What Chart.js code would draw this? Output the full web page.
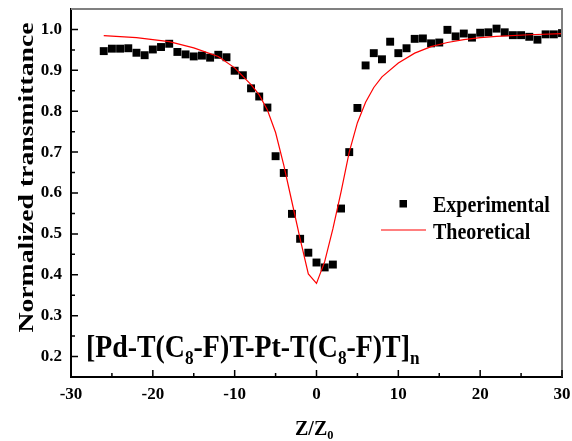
<!DOCTYPE html>
<html>
<head>
<meta charset="utf-8">
<script src="https://cdn.jsdelivr.net/npm/chart.js@4.4.1/dist/chart.umd.min.js"></script>
<style>
  html, body { margin: 0; padding: 0; background: #fff; }
  canvas { display: block; }
</style>
</head>
<body>
<canvas id="zscan" width="572" height="441"></canvas>
<script>
// experimental open-aperture points
const expZ = [-26, -25, -24, -23, -22, -21, -20, -19, -18, -17, -16, -15, -14, -13, -12, -11, -10, -9, -8, -7,
  -6, -5, -4, -3, -2, -1, 0, 1, 2, 3, 4, 5, 6, 7, 8, 9, 10, 11, 12, 13, 14, 15, 16, 17, 18, 19, 20, 21, 22, 23,
  24, 25, 26, 27, 28, 29, 30];
const expT = [0.947, 0.953, 0.953, 0.954, 0.943, 0.937, 0.951, 0.957, 0.965, 0.945, 0.939, 0.934, 0.936, 0.931,
  0.938, 0.932, 0.899, 0.888, 0.856, 0.836, 0.809, 0.690, 0.649, 0.549, 0.488, 0.454, 0.430, 0.418, 0.425, 0.562,
  0.700, 0.808, 0.912, 0.942, 0.927, 0.970, 0.942, 0.954, 0.977, 0.978, 0.966, 0.968, 0.999, 0.983, 0.990, 0.980,
  0.992, 0.993, 1.002, 0.993, 0.986, 0.986, 0.982, 0.975, 0.988, 0.988, 0.991];

// theoretical fit
const fitZ = [-26, -22, -18, -15, -12, -10, -8, -7, -6, -5, -4, -3, -2, -1, 0, 1, 2, 3, 4, 5, 6, 7, 8, 10, 12,
  14, 16, 18, 20, 22, 26, 30];
const fitT = [0.985, 0.980, 0.970, 0.955, 0.934, 0.906, 0.865, 0.840, 0.803, 0.748, 0.668, 0.578, 0.488, 0.402,
  0.379, 0.432, 0.512, 0.603, 0.700, 0.772, 0.822, 0.858, 0.884, 0.918, 0.942, 0.958, 0.968, 0.975, 0.980, 0.983,
  0.987, 0.990];

const xTicks = [-30, -20, -10, 0, 10, 20, 30];
const xMinor = [-25, -15, -5, 5, 15, 25];
const yTicks = [0.2, 0.3, 0.4, 0.5, 0.6, 0.7, 0.8, 0.9, 1.0];
const yMinor = [0.25, 0.35, 0.45, 0.55, 0.65, 0.75, 0.85, 0.95];

const serif = "'Liberation Serif', 'Times New Roman', serif";

// text with subscripts, squeezed a bit sideways like the original figure
function richText(ctx, parts, x, y, size, sx) {
  ctx.save();
  ctx.translate(x, y);
  ctx.scale(sx, 1);
  ctx.textAlign = 'left';
  ctx.textBaseline = 'alphabetic';
  let cx = 0;
  parts.forEach(p => {
    const fs = p.sub ? size * 0.62 : size;
    ctx.font = 'bold ' + fs + 'px ' + serif;
    ctx.fillText(p.t, cx, p.sub ? size * 0.22 : 0);
    cx += ctx.measureText(p.t).width;
  });
  ctx.restore();
}

const decor = {
  id: 'decor',
  afterDatasetsDraw(chart) {
    const ctx = chart.ctx;
    const a = chart.chartArea;
    const xs = chart.scales.x, ys = chart.scales.y;
    ctx.save();
    // grey top and right frame
    ctx.strokeStyle = '#808080';
    ctx.lineWidth = 2;
    ctx.beginPath();
    ctx.moveTo(a.left, a.top);
    ctx.lineTo(a.right, a.top);
    ctx.lineTo(a.right, a.bottom);
    ctx.stroke();
    // inward ticks
    ctx.strokeStyle = '#000';
    ctx.lineWidth = 1.5;
    ctx.beginPath();
    xTicks.forEach(v => { const p = xs.getPixelForValue(v); ctx.moveTo(p, a.bottom); ctx.lineTo(p, a.bottom - 7); });
    xMinor.forEach(v => { const p = xs.getPixelForValue(v); ctx.moveTo(p, a.bottom); ctx.lineTo(p, a.bottom - 4); });
    yTicks.forEach(v => { const p = ys.getPixelForValue(v); ctx.moveTo(a.left, p); ctx.lineTo(a.left + 7, p); });
    yMinor.forEach(v => { const p = ys.getPixelForValue(v); ctx.moveTo(a.left, p); ctx.lineTo(a.left + 4, p); });
    ctx.stroke();
    ctx.restore();
  },
  afterDraw(chart) {
    const ctx = chart.ctx;
    ctx.save();
    ctx.fillStyle = '#000';

    // legend
    ctx.fillRect(399.5, 200, 7.5, 7.5);
    richText(ctx, [{ t: 'Experimental' }], 433, 211.5, 23, 0.87);
    ctx.strokeStyle = '#ff0000';
    ctx.lineWidth = 1.2;
    ctx.beginPath();
    ctx.moveTo(381, 230);
    ctx.lineTo(426, 230);
    ctx.stroke();
    richText(ctx, [{ t: 'Theoretical' }], 433, 238.5, 23, 0.87);

    // compound label
    richText(ctx, [
      { t: '[Pd-T(C' }, { t: '8', sub: true }, { t: '-F)T-Pt-T(C' }, { t: '8', sub: true },
      { t: '-F)T]' }, { t: 'n', sub: true }
    ], 86, 356.5, 32, 0.87);

    // x axis title
    richText(ctx, [{ t: 'Z/Z' }, { t: '0', sub: true }], 295, 435, 20, 1);

    // y axis title
    ctx.save();
    ctx.translate(33, 177.5);
    ctx.rotate(-Math.PI / 2);
    ctx.scale(1.26, 1);
    ctx.font = 'bold 22px ' + serif;
    ctx.textAlign = 'center';
    ctx.textBaseline = 'alphabetic';
    ctx.fillText('Normalized transmittance', 0, 0);
    ctx.restore();

    ctx.restore();
  }
};

const tickFont = { family: serif, size: 17, weight: 'bold' };

new Chart(document.getElementById('zscan'), {
  type: 'scatter',
  data: {
    datasets: [{
      label: 'Theoretical',
      data: fitZ.map((z, i) => ({ x: z, y: fitT[i] })),
      showLine: true,
      borderColor: '#ff0000',
      borderWidth: 1.2,
      pointRadius: 0,
      tension: 0,
      order: 0
    }, {
      label: 'Experimental',
      data: expZ.map((z, i) => ({ x: z, y: expT[i] })),
      pointStyle: 'rect',
      pointRadius: 5.6,
      backgroundColor: '#000',
      borderWidth: 0,
      clip: 0,
      order: 1
    }]
  },
  options: {
    responsive: false,
    animation: false,
    events: [],
    layout: { padding: { top: 9, right: 10, left: 0, bottom: 0 } },
    plugins: { legend: { display: false }, tooltip: { enabled: false } },
    scales: {
      x: {
        type: 'linear', min: -30, max: 30,
        afterBuildTicks: s => { s.ticks = xTicks.map(v => ({ value: v })); },
        afterFit: s => { s.height = 64; s.paddingLeft = 0; s.paddingRight = 0; },
        grid: { display: false, drawTicks: false },
        border: { display: true, color: '#000', width: 2 },
        ticks: { color: '#000', font: tickFont, padding: 7, autoSkip: false, maxRotation: 0 }
      },
      y: {
        min: 0.15, max: 1.05,
        afterBuildTicks: s => { s.ticks = yTicks.map(v => ({ value: v })); },
        afterFit: s => { s.width = 71; s.paddingTop = 0; s.paddingBottom = 0; },
        grid: { display: false, drawTicks: false },
        border: { display: true, color: '#000', width: 2 },
        ticks: { color: '#000', font: tickFont, padding: 9, autoSkip: false, callback: v => v.toFixed(1) }
      }
    }
  },
  plugins: [decor]
});
</script>
</body>
</html>
